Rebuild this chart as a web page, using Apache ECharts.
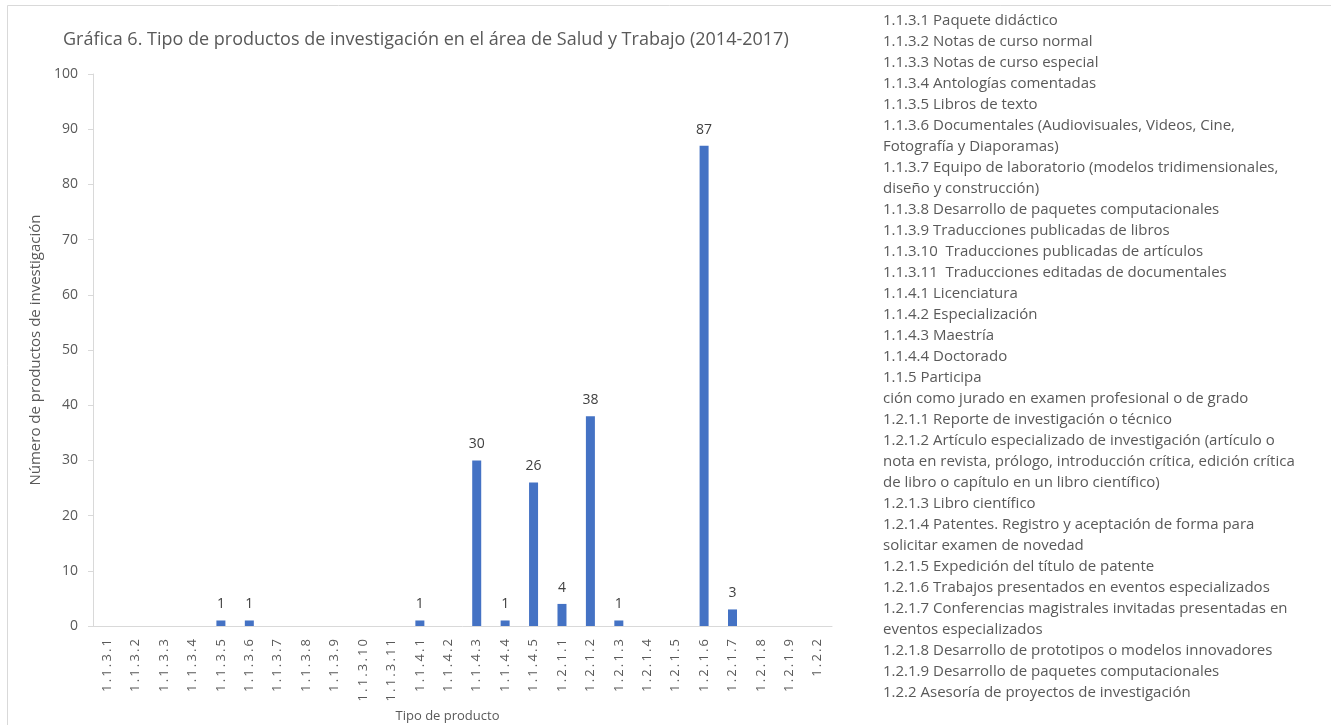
<!DOCTYPE html>
<html>
<head>
<meta charset="utf-8">
<script src="https://cdn.jsdelivr.net/npm/echarts@6/dist/echarts.min.js"></script>
<style>
  html, body { margin: 0; padding: 0; background: #fff; }
  #chart { width: 1331px; height: 725px; }
</style>
</head>
<body>
<div id="chart"></div>
<script>
const titleText = 'Gráfica 6. Tipo de productos de investigación en el área de Salud y Trabajo (2014-2017)';

const categories = [
  '1.1.3.1', '1.1.3.2', '1.1.3.3', '1.1.3.4', '1.1.3.5', '1.1.3.6', '1.1.3.7',
  '1.1.3.8', '1.1.3.9', '1.1.3.10', '1.1.3.11', '1.1.4.1', '1.1.4.2', '1.1.4.3',
  '1.1.4.4', '1.1.4.5', '1.2.1.1', '1.2.1.2', '1.2.1.3', '1.2.1.4', '1.2.1.5',
  '1.2.1.6', '1.2.1.7', '1.2.1.8', '1.2.1.9', '1.2.2'
];

const counts = [
  0, 0, 0, 0, 1, 1, 0,
  0, 0, 0, 0, 1, 0, 30,
  1, 26, 4, 38, 1, 0, 0,
  87, 3, 0, 0, 0
];

const yTicks = { min: 0, max: 100, interval: 10 };

const legendLines = [
  '1.1.3.1 Paquete didáctico',
  '1.1.3.2 Notas de curso normal',
  '1.1.3.3 Notas de curso especial',
  '1.1.3.4 Antologías comentadas',
  '1.1.3.5 Libros de texto',
  '1.1.3.6 Documentales (Audiovisuales, Videos, Cine,',
  'Fotografía y Diaporamas)',
  '1.1.3.7 Equipo de laboratorio (modelos tridimensionales,',
  'diseño y construcción)',
  '1.1.3.8 Desarrollo de paquetes computacionales',
  '1.1.3.9 Traducciones publicadas de libros',
  '1.1.3.10  Traducciones publicadas de artículos',
  '1.1.3.11  Traducciones editadas de documentales',
  '1.1.4.1 Licenciatura',
  '1.1.4.2 Especialización',
  '1.1.4.3 Maestría',
  '1.1.4.4 Doctorado',
  '1.1.5 Participa',
  'ción como jurado en examen profesional o de grado',
  '1.2.1.1 Reporte de investigación o técnico',
  '1.2.1.2 Artículo especializado de investigación (artículo o',
  'nota en revista, prólogo, introducción crítica, edición crítica',
  'de libro o capítulo en un libro científico)',
  '1.2.1.3 Libro científico',
  '1.2.1.4 Patentes. Registro y aceptación de forma para',
  'solicitar examen de novedad',
  '1.2.1.5 Expedición del título de patente',
  '1.2.1.6 Trabajos presentados en eventos especializados',
  '1.2.1.7 Conferencias magistrales invitadas presentadas en',
  'eventos especializados',
  '1.2.1.8 Desarrollo de prototipos o modelos innovadores',
  '1.2.1.9 Desarrollo de paquetes computacionales',
  '1.2.2 Asesoría de proyectos de investigación'
];

const font = '"Open Sans", "Noto Sans", sans-serif';
const grey = '#595959';

// the category labels in the original are drawn with wide letter spacing
const spaced = s => s.split('').join('\u2009');

const chart = echarts.init(document.getElementById('chart'), null, { renderer: 'canvas' });

chart.setOption({
  backgroundColor: '#fff',
  animation: false,
  textStyle: { fontFamily: font },
  title: {
    text: titleText,
    left: 58,
    top: 26,
    textStyle: { fontFamily: font, fontSize: 18, fontWeight: 'normal', color: grey }
  },
  graphic: [
    {
      type: 'rect',
      left: 5, top: 3,
      shape: { width: 1400, height: 800 },
      style: { fill: 'none', stroke: '#d9d9d9', lineWidth: 1 },
      silent: true
    },
    {
      type: 'text',
      left: 883, top: 10,
      style: {
        text: legendLines.join('\n'),
        fontFamily: font,
        fontSize: 15,
        lineHeight: 21,
        fill: grey
      },
      silent: true
    }
  ],
  grid: {
    left: 93, right: 499, top: 74, bottom: 99,
    containLabel: false,
    outerBoundsMode: 'none'
  },
  xAxis: {
    type: 'category',
    data: categories,
    name: 'Tipo de producto',
    nameLocation: 'middle',
    nameGap: 81,
    nameTextStyle: { fontFamily: font, fontSize: 13, color: grey, padding: [0, 30, 0, 0] },
    axisLine: { lineStyle: { color: '#d9d9d9' } },
    axisTick: { show: false },
    axisLabel: {
      rotate: 90, interval: 0, margin: 13, fontSize: 13, color: grey, fontFamily: font,
      formatter: spaced
    }
  },
  yAxis: {
    type: 'value',
    min: yTicks.min,
    max: yTicks.max,
    interval: yTicks.interval,
    name: 'Número de productos de investigación',
    nameLocation: 'middle',
    nameGap: 48,
    nameTextStyle: { fontFamily: font, fontSize: 15, color: grey },
    axisLine: { show: true, lineStyle: { color: '#d9d9d9' } },
    axisTick: { show: true, length: 5, lineStyle: { color: '#d9d9d9' } },
    axisLabel: { margin: 15, fontSize: 14, color: grey, fontFamily: font },
    splitLine: { show: false }
  },
  series: [{
    type: 'bar',
    data: counts,
    barWidth: 9,
    itemStyle: { color: '#4472C4' },
    label: {
      show: true,
      position: 'top',
      distance: 9,
      fontSize: 14,
      color: '#404040',
      fontFamily: font,
      formatter: p => (p.value ? String(p.value) : '')
    }
  }]
});
</script>
</body>
</html>
